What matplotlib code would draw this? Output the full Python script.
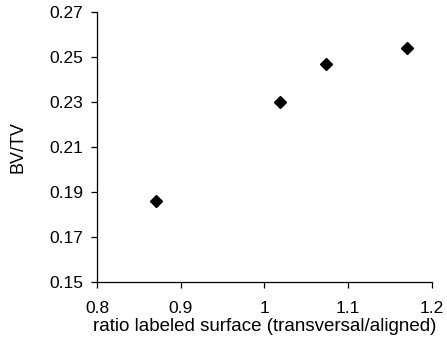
import matplotlib
matplotlib.use("Agg")
import matplotlib.pyplot as plt

plt.rcParams['font.family'] = ['Liberation Sans', 'DejaVu Sans']

# ratio labeled surface vs BV/TV
ratio = [0.870, 1.019, 1.073, 1.170]
bvtv = [0.186, 0.230, 0.247, 0.254]

xticks = [0.8, 0.9, 1.0, 1.1, 1.2]
xticklabels = ['0.8', '0.9', '1', '1.1', '1.2']
yticks = [0.15, 0.17, 0.19, 0.21, 0.23, 0.25, 0.27]

fig = plt.figure(figsize=(4.47, 3.52), dpi=100)
ax = fig.add_axes([0.217, 0.199, 0.749, 0.767])

ax.plot(ratio, bvtv, 'D', color='black', markersize=6, linestyle='none')

ax.set_xlim(0.8, 1.2)
ax.set_ylim(0.15, 0.27)
ax.set_xticks(xticks)
ax.set_xticklabels(xticklabels)
ax.set_yticks(yticks)
ax.set_yticklabels(['%.2f' % v for v in yticks])

ax.spines['top'].set_visible(False)
ax.spines['right'].set_visible(False)
for s in ['left', 'bottom']:
    ax.spines[s].set_linewidth(0.9)
ax.tick_params(axis='x', direction='out', length=4, width=0.9, pad=10, labelsize=12.5)
ax.tick_params(axis='y', direction='out', length=4, width=0.9, pad=6, labelsize=12.5)

ax.set_xlabel('ratio labeled surface (transversal/aligned)', fontsize=13.5, labelpad=1)
ax.set_ylabel('BV/TV', fontsize=13, labelpad=16)

fig.savefig('out.png', dpi=100)
